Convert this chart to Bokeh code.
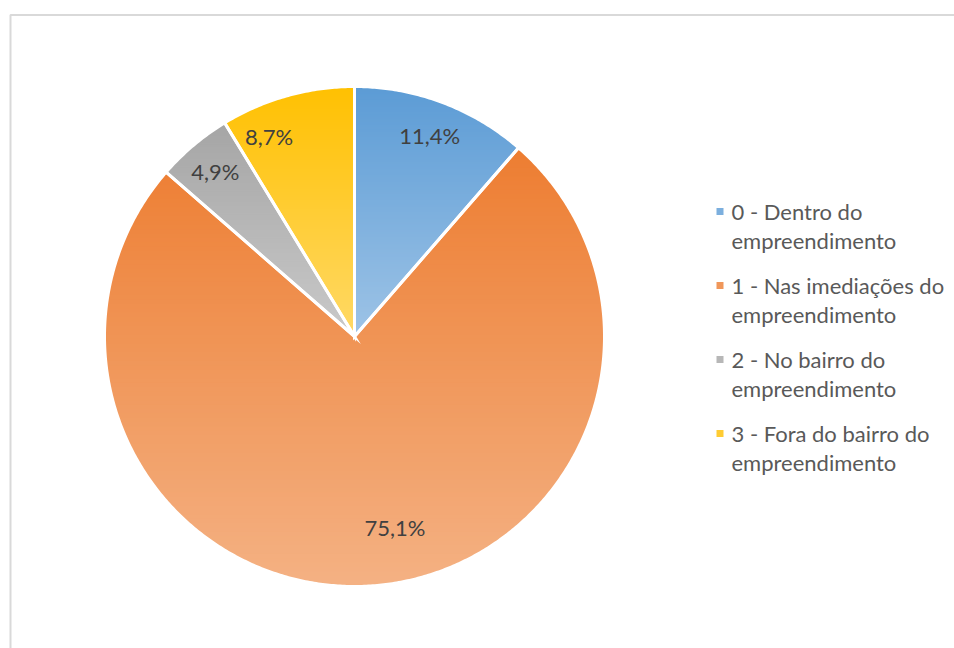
import numpy as np
from bokeh.plotting import figure
from bokeh.models import Range1d
from bokeh.core.properties import value
from bokeh.embed import file_html
from bokeh.resources import INLINE

# ---- data ----
categories = ["0 - Dentro do empreendimento",
              "1 - Nas imediações do empreendimento",
              "2 - No bairro do empreendimento",
              "3 - Fora do bairro do empreendimento"]
legend_lines = [["0 - Dentro do", "empreendimento"],
                ["1 - Nas imediações do", "empreendimento"],
                ["2 - No bairro do", "empreendimento"],
                ["3 - Fora do bairro do", "empreendimento"]]
shares = [11.4, 75.1, 4.9, 8.7]
labels = ["11,4%", "75,1%", "4,9%", "8,7%"]
top_colors = ["#5B9BD5", "#ED7D31", "#A5A5A5", "#FFC000"]
bottom_colors = ["#9DC3E6", "#F4B183", "#C9C9C9", "#FFD966"]

# ---- layout (styling) ----
W, H = 954, 648
CX, CY = 354, H - 336
R = 250
label_frac = [0.86, 0.78, 0.865, 0.87]
label_turn = [0.0, -8.0, 0.0, -7.5]   # degrees of label shift (best-fit placement)
FONT = "Lato"

p = figure(width=W, height=H, output_backend="svg", toolbar_location=None,
           x_range=Range1d(0, W), y_range=Range1d(0, H), min_border=0)
p.axis.visible = False
p.grid.visible = False
p.outline_line_color = None
p.background_fill_color = "white"
p.border_fill_color = "white"

# chart-area frame
p.line(x=[10, 10, W + 5], y=[-5, H - 14.5, H - 14.5], line_color="#D9D9D9", line_width=2)


def hex2rgb(h):
    h = h.lstrip("#")
    return np.array([int(h[i:i + 2], 16) for i in (0, 2, 4)], dtype=float)


def rgb2hex(c):
    c = np.clip(np.round(c), 0, 255).astype(int)
    return "#%02x%02x%02x" % tuple(c)


def clip_poly(xs, ys, yv, keep_above):
    out_x, out_y = [], []
    n = len(xs)
    for i in range(n):
        x1, y1 = xs[i], ys[i]
        x2, y2 = xs[(i + 1) % n], ys[(i + 1) % n]
        in1 = (y1 >= yv) if keep_above else (y1 <= yv)
        in2 = (y2 >= yv) if keep_above else (y2 <= yv)
        if in1:
            out_x.append(x1); out_y.append(y1)
        if in1 != in2:
            t = (yv - y1) / (y2 - y1)
            out_x.append(x1 + t * (x2 - x1)); out_y.append(yv)
    return out_x, out_y


fractions = np.array(shares) / np.sum(shares)
ends = np.cumsum(fractions)
starts = ends - fractions

band_xs, band_ys, band_cols = [], [], []
wedge_polys_x, wedge_polys_y = [], []
for i in range(len(shares)):
    # clockwise from 12 o'clock; math angle = 90deg - clockwise angle
    a0 = np.pi / 2 - 2 * np.pi * starts[i]
    a1 = np.pi / 2 - 2 * np.pi * ends[i]
    n = max(8, int(abs(a1 - a0) / (2 * np.pi) * 720))
    ang = np.linspace(a0, a1, n)
    xs = [CX] + list(CX + R * np.cos(ang))
    ys = [CY] + list(CY + R * np.sin(ang))
    wedge_polys_x.append(xs); wedge_polys_y.append(ys)
    ytop, ybot = max(ys), min(ys)
    nb = 100
    edges = np.linspace(ytop, ybot, nb + 1)
    ct, cb = hex2rgb(top_colors[i]), hex2rgb(bottom_colors[i])
    for b in range(nb):
        hi, lo = edges[b] + 2.0, edges[b + 1]
        bx, by = clip_poly(xs, ys, lo, True)
        if len(bx) < 3:
            continue
        bx, by = clip_poly(bx, by, hi, False)
        if len(bx) < 3:
            continue
        t = (b + 0.5) / nb
        band_xs.append(bx); band_ys.append(by)
        band_cols.append(rgb2hex(ct + (cb - ct) * t))

p.patches(xs=band_xs, ys=band_ys, fill_color=band_cols, line_color=None)
p.patches(xs=wedge_polys_x, ys=wedge_polys_y, fill_color=None,
          line_color="white", line_width=3, line_join="miter")

# data labels
lx, ly = [], []
for i in range(len(shares)):
    mid = 2 * np.pi * (starts[i] + ends[i]) / 2 + np.radians(label_turn[i])
    lx.append(CX + label_frac[i] * R * np.sin(mid))
    ly.append(CY + label_frac[i] * R * np.cos(mid))
p.text(x=lx, y=ly, text=labels, text_font=value(FONT), text_font_size="22px",
       text_color="#404040", text_align="center", text_baseline="middle")

# legend (manual, two-line entries)
LX, LY0, ENTRY, LINE = 731, H - 211, 74, 29
sq_x, sq_y, sq_c = [], [], []
tx, ty, tt = [], [], []
for i, lines in enumerate(legend_lines):
    y0 = LY0 - i * ENTRY
    sq_x.append(LX - 11.5); sq_y.append(y0)
    sq_c.append(rgb2hex((hex2rgb(top_colors[i]) + hex2rgb(bottom_colors[i])) / 2))
    for k, s in enumerate(lines):
        tx.append(LX); ty.append(y0 - k * LINE); tt.append(s)
p.rect(x=sq_x, y=sq_y, width=7, height=7, fill_color=sq_c, line_color=None)
p.text(x=tx, y=ty, text=tt, text_font=value(FONT), text_font_size="22px",
       text_color="#595959", text_align="left", text_baseline="middle")

open("out.html", "w").write(file_html(p, INLINE))
